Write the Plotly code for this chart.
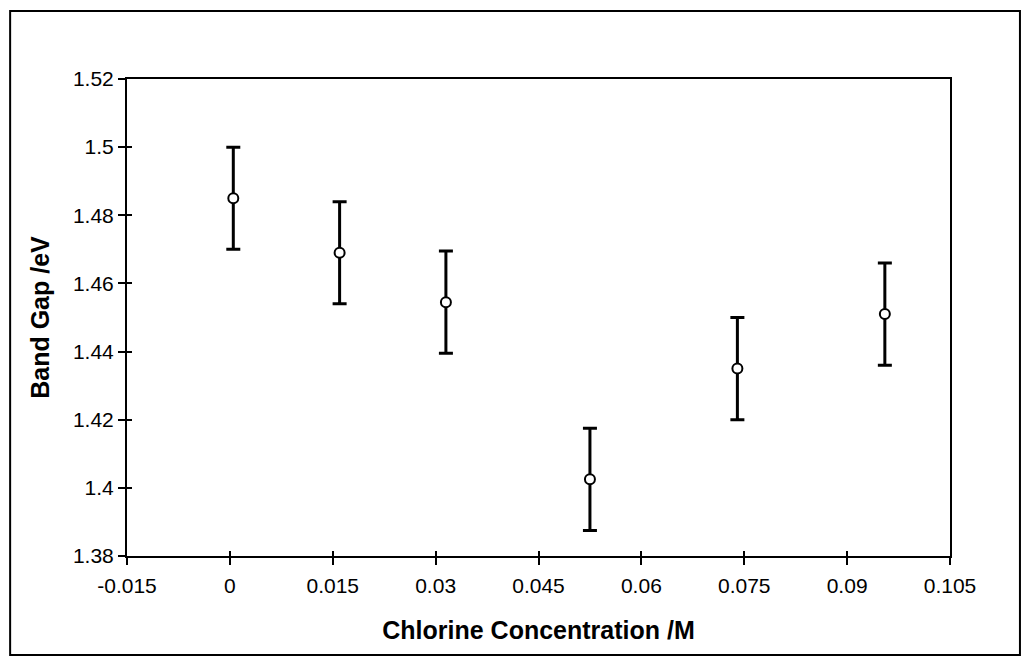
import plotly.graph_objects as go

# Band gap measurements vs chlorine concentration
concentration = [0.0005, 0.016, 0.0315, 0.0525, 0.074, 0.0955]
band_gap = [1.485, 1.469, 1.4545, 1.4025, 1.435, 1.451]
band_gap_err = [0.015, 0.015, 0.015, 0.015, 0.015, 0.015]

x_ticks = [-0.015, 0, 0.015, 0.03, 0.045, 0.06, 0.075, 0.09, 0.105]
x_tick_text = ["-0.015", "0", "0.015", "0.03", "0.045", "0.06", "0.075", "0.09", "0.105"]
y_ticks = [1.38, 1.4, 1.42, 1.44, 1.46, 1.48, 1.5, 1.52]
y_tick_text = ["1.38", "1.4", "1.42", "1.44", "1.46", "1.48", "1.5", "1.52"]

FONT = "Liberation Sans, Arial, sans-serif"

fig = go.Figure()
fig.add_trace(go.Scatter(
    x=concentration,
    y=band_gap,
    mode="markers",
    marker=dict(symbol="circle", size=10, color="white",
                line=dict(color="black", width=2)),
    error_y=dict(type="data", array=band_gap_err, visible=True,
                 color="black", thickness=3, width=7),
    showlegend=False,
))

# invisible trace on the overlay axes so the inner tick marks are drawn
fig.add_trace(go.Scatter(x=[None], y=[None], xaxis="x2", yaxis="y2",
                         showlegend=False, hoverinfo="skip"))

axis_common = dict(showgrid=False, zeroline=False, showline=True,
                   linecolor="black", linewidth=2, mirror=True,
                   ticks="outside", ticklen=7, tickwidth=1.5, tickcolor="black",
                   tickfont=dict(family=FONT, size=21, color="black"))

fig.update_layout(
    width=1029, height=664,
    margin=dict(l=127, r=79, t=79, b=108),
    paper_bgcolor="white", plot_bgcolor="white",
    xaxis=dict(range=[-0.015, 0.105], tickvals=x_ticks, ticktext=x_tick_text,
               ticklabelstandoff=3,
               title=dict(text="<b>Chlorine Concentration /M</b>",
                          font=dict(family=FONT, size=25, color="black"),
                          standoff=25),
               **axis_common),
    yaxis=dict(range=[1.38, 1.52], tickvals=y_ticks, ticktext=y_tick_text,
               title=dict(text="<b>Band Gap /eV</b>",
                          font=dict(family=FONT, size=25, color="black"),
                          standoff=16),
               **axis_common),
    xaxis2=dict(range=[-0.015, 0.105], tickvals=x_ticks, overlaying="x",
                showticklabels=False, showgrid=False, zeroline=False,
                ticks="inside", ticklen=5, tickwidth=1.5, tickcolor="black"),
    yaxis2=dict(range=[1.38, 1.52], tickvals=y_ticks, overlaying="y",
                showticklabels=False, showgrid=False, zeroline=False,
                ticks="inside", ticklen=5, tickwidth=1.5, tickcolor="black"),
    shapes=[dict(type="rect", xref="paper", yref="paper",
                 x0=-0.142, x1=1.085, y0=-0.2075, y1=1.1426,
                 line=dict(color="black", width=2), fillcolor="rgba(0,0,0,0)",
                 layer="below")],
)

fig.write_html("out.html")
